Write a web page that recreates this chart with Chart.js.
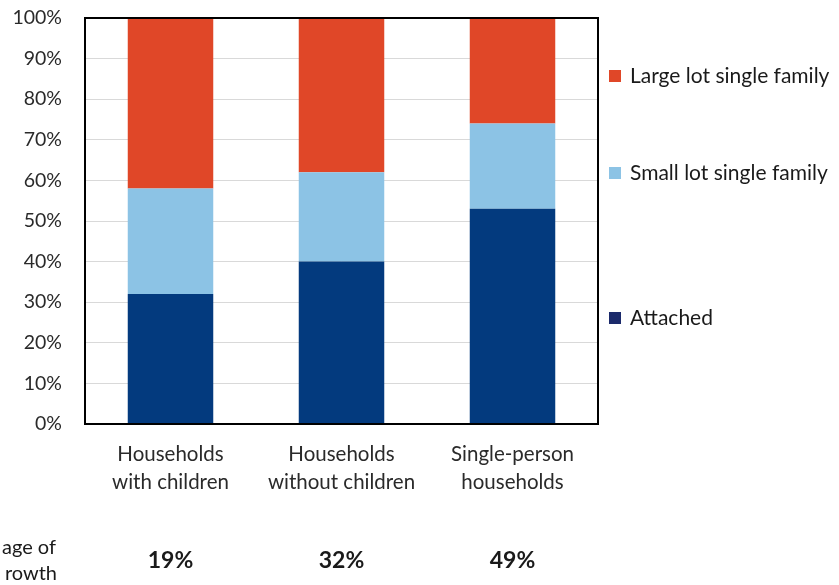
<!DOCTYPE html>
<html>
<head>
<meta charset="utf-8">
<script src="https://cdn.jsdelivr.net/npm/chart.js@4/dist/chart.umd.min.js"></script>
<style>
  html, body { margin: 0; padding: 0; background: #fff; }
  #wrap { position: relative; width: 839px; height: 585px; }
</style>
</head>
<body>
<div id="wrap"><canvas id="chart" width="839" height="585"></canvas></div>
<script>
// categories and series (percent of new units by housing type)
const categories = [["Households", "with children"], ["Households", "without children"], ["Single-person", "households"]];
const attached = [32, 40, 53];
const smallLot = [26, 22, 21];
const largeLot = [42, 38, 26];
const growthShare = ["19%", "32%", "49%"];
const growthLabel = ["age of", "rowth"];

const FONT = "Lato, 'Open Sans', sans-serif";

// frame around the plot area, like the Excel original
const frame = {
  id: "frame",
  afterDatasetsDraw(chart) {
    const {ctx, chartArea: a} = chart;
    ctx.save();
    ctx.strokeStyle = "#000";
    ctx.lineWidth = 2;
    ctx.strokeRect(a.left, a.top, a.right - a.left, a.bottom - a.top);
    ctx.restore();
  }
};

// legend at the right, spaced as in the reference
const sideLegend = {
  id: "sideLegend",
  afterDraw(chart) {
    const {ctx} = chart;
    const rows = [
      {ds: 2, y: 76},
      {ds: 1, y: 173},
      {ds: 0, y: 318}
    ];
    ctx.save();
    ctx.font = "21px " + FONT;
    ctx.textBaseline = "middle";
    rows.forEach(r => {
      const ds = chart.data.datasets[r.ds];
      ctx.fillStyle = ds.legendColor || ds.backgroundColor;
      ctx.fillRect(609, r.y - 6, 12, 12);
      ctx.fillStyle = "#1a1a1a";
      ctx.fillText(ds.label, 630, r.y);
    });
    ctx.restore();
  }
};

// share of growth row under the category labels
const growthRow = {
  id: "growthRow",
  afterDraw(chart) {
    const {ctx} = chart;
    const x = chart.scales.x;
    ctx.save();
    ctx.fillStyle = "#1a1a1a";
    ctx.textBaseline = "middle";
    ctx.font = "bold 23px " + FONT;
    ctx.textAlign = "center";
    growthShare.forEach((t, i) => ctx.fillText(t, x.getPixelForValue(i), 561));
    ctx.font = "20px " + FONT;
    ctx.textAlign = "right";
    ctx.fillText(growthLabel[0], 56, 548);
    ctx.fillText(growthLabel[1], 57, 574);
    ctx.restore();
  }
};

new Chart(document.getElementById("chart"), {
  type: "bar",
  data: {
    labels: categories,
    datasets: [
      {label: "Attached", data: attached, backgroundColor: "#033a7e", legendColor: "#1b2a6b"},
      {label: "Small lot single family", data: smallLot, backgroundColor: "#8cc3e5"},
      {label: "Large lot single family", data: largeLot, backgroundColor: "#e04728"}
    ]
  },
  options: {
    responsive: false,
    animation: false,
    events: [],
    layout: {padding: {top: 18, right: 241, bottom: 0, left: 0}},
    datasets: {bar: {categoryPercentage: 1, barPercentage: 0.5, borderWidth: 0}},
    plugins: {legend: {display: false}, tooltip: {enabled: false}},
    scales: {
      x: {
        stacked: true,
        grid: {display: false, drawTicks: false},
        border: {display: false},
        ticks: {
          color: "#2a2a2a",
          padding: 17,
          font: {family: FONT, size: 20.5, lineHeight: 1.35}
        },
        afterFit(s) { s.height = 161; s.paddingLeft = 0; s.paddingRight = 0; }
      },
      y: {
        stacked: true,
        min: 0,
        max: 100,
        grid: {color: "#d9d9d9", lineWidth: 1, drawTicks: false},
        border: {display: false},
        ticks: {
          stepSize: 10,
          color: "#2a2a2a",
          padding: 23,
          font: {family: FONT, size: 19.5},
          callback: v => v + "%"
        },
        afterFit(s) { s.width = 85; s.paddingTop = 0; s.paddingBottom = 0; }
      }
    }
  },
  plugins: [frame, sideLegend, growthRow]
});
</script>
</body>
</html>
